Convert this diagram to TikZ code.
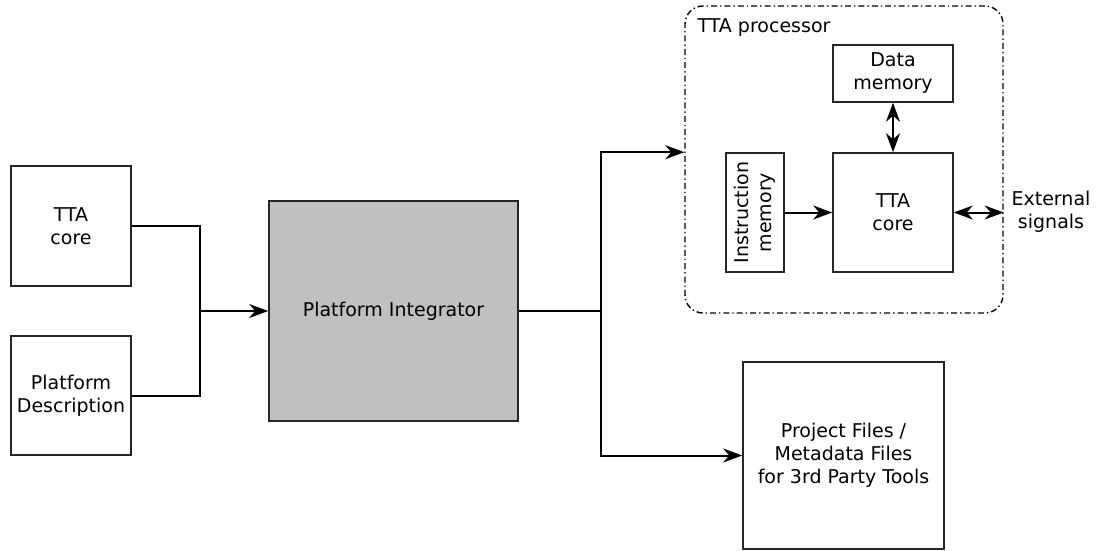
\documentclass[tikz,border=0pt]{standalone}
\usepackage{fontspec}
\setmainfont{DejaVu Sans}
\usetikzlibrary{arrows.meta}
\begin{document}
\begin{tikzpicture}[x=1pt,y=-1pt,
  font=\fontsize{19}{23}\selectfont,
  box/.style={draw=black!85, line width=1.6pt, inner sep=0pt, align=center},
  conn/.style={line width=2pt, draw=black},
  head/.style={Stealth[length=19pt,width=14pt,inset=6pt]},
  tip/.style={-{Stealth[length=19pt,width=14pt,inset=6pt]}},
  bitip/.style={{Stealth[length=19pt,width=14pt,inset=6pt]}-{Stealth[length=19pt,width=14pt,inset=6pt]}},
  container/.style={draw=black, line width=1.4pt, rounded corners=18pt,
    dash pattern=on 6pt off 3pt on 1.4pt off 3pt, inner sep=0pt}]
\useasboundingbox (0,0) rectangle (1098,551);

% inputs
\node[box, minimum width=120pt, minimum height=120pt] (ttacore) at (71,226) {TTA\\core};
\node[box, minimum width=120pt, minimum height=119pt] (pdesc) at (71,395.5) {Platform\\Description};

% integrator
\node[box, fill={rgb,255:red,192;green,192;blue,192}, minimum width=249pt, minimum height=220pt] (pi) at (393.5,311) {Platform Integrator};

% processor and its parts
\node[container, minimum width=318pt, minimum height=307pt] (proc) at (844,159.5) {};
\node[anchor=base west] (proclabel) at (694,33) {TTA processor};
\node[box, minimum width=58pt, minimum height=119pt] (imem) at (755,212.5) {};
\node[rotate=90, align=center, inner sep=0pt] (imemtext) at (imem.center) {Instruction\\memory};
\node[box, minimum width=120pt, minimum height=57pt] (dmem) at (893,73.5) {Data\\memory};
\node[box, minimum width=120pt, minimum height=119pt] (tcore) at (893,212.5) {TTA\\core};
\node[align=center, inner sep=0pt] (ext) at (1051,212) {External\\signals};

% outputs
\node[box, minimum width=201pt, minimum height=187pt] (proj) at (843.5,455.5) {Project Files /\\Metadata Files\\for 3rd Party Tools};

% junctions
\coordinate (jin) at (200,311);
\coordinate (jout) at (601,311);

% connectors
\draw[conn] (ttacore.east) -| (jin);
\draw[conn] (pdesc.east) -| (jin);
\draw[conn, tip] (jin) -- (pi.west);
\draw[conn] (pi.east) -- (jout);
\draw[conn, tip] (jout) |- (proc.west |- imem.north);
\draw[conn, tip] (jout) |- (proj.west);
\draw[conn, tip] (imem.east |- tcore.west) -- (tcore.west);
\draw[conn, bitip] (dmem.south) -- (tcore.north);
\draw[conn, bitip] (tcore.east) -- (tcore.east -| proc.east);
\end{tikzpicture}
\end{document}
